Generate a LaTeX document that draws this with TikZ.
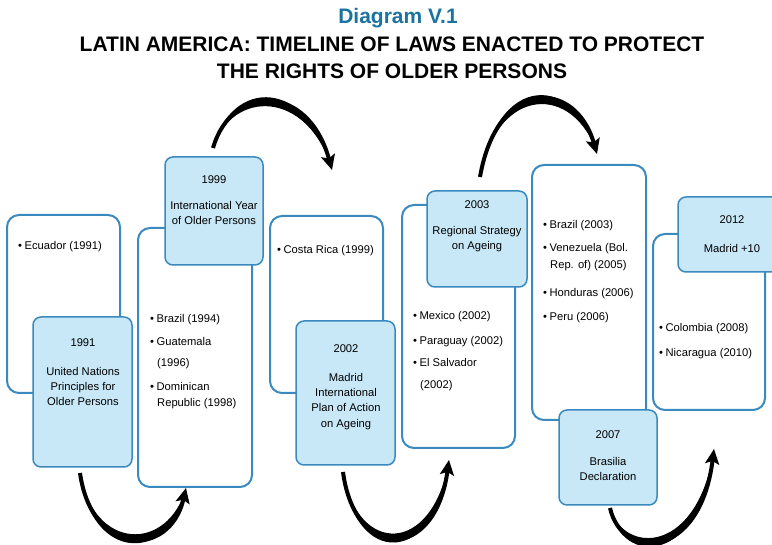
\documentclass[tikz,border=0pt]{standalone}
\usepackage{fontspec}
\setmainfont{Liberation Sans}
\usetikzlibrary{arrows.meta}
\definecolor{boxblue}{HTML}{C8E8F7}
\definecolor{edgeblue}{HTML}{3A8AC0}
\definecolor{titleblue}{HTML}{1A73A0}
\newcommand{\bul}{•\kern2.5pt}
\begin{document}
\begin{tikzpicture}[x=1pt,y=-1pt,
  whitebox/.style={draw=edgeblue,line width=2pt,fill=white,rounded corners=12pt},
  bluebox/.style={draw=edgeblue,line width=1.5pt,fill=boxblue,rounded corners=8pt},
  txt/.style={font=\fontsize{11.2}{13}\selectfont,inner sep=0pt,anchor=base west},
  ctxt/.style={font=\fontsize{11.2}{13}\selectfont,inner sep=0pt,anchor=base},
  bigarrow/.style={line width=4pt,-{Stealth[length=15pt,width=14pt,inset=3pt]}},
  lens/.style={fill=black,draw=none},
  ttl/.style={font=\bfseries\fontsize{21}{24}\selectfont,inner sep=0pt,anchor=base}]
\useasboundingbox (0,0) rectangle (772,545);
% titles
\node[ttl,text=titleblue] (t1) at (398,24) {Diagram V.1};
\node[ttl] (t2) at (392,52) {LATIN AMERICA: TIMELINE OF LAWS ENACTED TO PROTECT};
\node[ttl] (t3) at (392,79) {THE RIGHTS OF OLDER PERSONS};
% boxes
\draw[whitebox] (7,215) rectangle (120,393);
\draw[bluebox] (33,317) rectangle (132,467);
\draw[whitebox] (138,228) rectangle (252,487);
\draw[bluebox] (165,157) rectangle (263,265);
\draw[whitebox] (270,216) rectangle (383,393);
\draw[bluebox] (296,321) rectangle (395,465);
\draw[whitebox] (402,205) rectangle (515,448);
\draw[bluebox] (427,191) rectangle (527,287);
\draw[whitebox] (532,165) rectangle (646,420);
\draw[bluebox] (559,410) rectangle (657,505);
\draw[whitebox] (653,234) rectangle (765,410);
\draw[bluebox] (678,197) rectangle (790,272);
% texts box 1
\node[txt] (e1) at (18,250) {\bul Ecuador (1991)};
\node[ctxt] (a1) at (83,347) {1991};
\node[ctxt] (a2) at (83,376) {United Nations};
\node[ctxt] (a3) at (83,391) {Principles for};
\node[ctxt] (a4) at (83,406) {Older Persons};
% box 2
\node[txt] (b1) at (150,323) {\bul Brazil (1994)};
\node[txt] (b2) at (150,346) {\bul Guatemala};
\node[txt] (b3) at (157,367) {(1996)};
\node[txt] (b4) at (150,391) {\bul Dominican};
\node[txt] (b5) at (157,407) {Republic (1998)};
\node[ctxt] (c1) at (214,184) {1999};
\node[ctxt] (c2) at (214,210) {International Year};
\node[ctxt] (c3) at (214,225) {of Older Persons};
% box 3
\node[txt] (d1) at (277,254) {\bul Costa Rica (1999)};
\node[ctxt] (f1) at (346,353) {2002};
\node[ctxt] (f2) at (346,382) {Madrid};
\node[ctxt] (f3) at (346,397) {International};
\node[ctxt] (f4) at (346,412) {Plan of Action};
\node[ctxt] (f5) at (346,428) {on Ageing};
% box 4
\node[txt] (g1) at (413,320) {\bul Mexico (2002)};
\node[txt] (g2) at (413,345) {\bul Paraguay (2002)};
\node[txt] (g3) at (413,367) {\bul El Salvador};
\node[txt] (g4) at (420,389) {(2002)};
\node[ctxt] (h1) at (477,209) {2003};
\node[ctxt] (h2) at (477,235) {Regional Strategy};
\node[ctxt] (h3) at (477,250) {on Ageing};
% box 5
\node[txt] (i1) at (543,229) {\bul Brazil (2003)};
\node[txt] (i2) at (543,252) {\bul Venezuela (Bol.};
\node[txt] (i3) at (550,269) {Rep. of) (2005)};
\node[txt] (i4) at (543,297) {\bul Honduras (2006)};
\node[txt] (i5) at (543,321) {\bul Peru (2006)};
\node[ctxt] (j1) at (608,439) {2007};
\node[ctxt] (j2) at (608,466) {Brasilia};
\node[ctxt] (j3) at (608,481) {Declaration};
% box 6
\node[txt] (k1) at (659,332) {\bul Colombia (2008)};
\node[txt] (k2) at (659,357) {\bul Nicaragua (2010)};
\node[ctxt] (l1) at (732,224) {2012};
\node[ctxt] (l2) at (732,253) {Madrid +10};
% arrows
\coordinate (s1) at (80,473); \coordinate (e1a) at (186,488);
\coordinate (s2) at (213,148); \coordinate (e2a) at (332,170);
\coordinate (s3) at (343,472); \coordinate (e3a) at (449,460);
\coordinate (s4) at (480,177); \coordinate (e4a) at (597,154);
\coordinate (s5) at (610,508); \coordinate (e5a) at (714,449);
\fill[lens] (s1) .. controls (94,552) and (168,552) .. (e1a) .. controls (172,564) and (90,564) .. (s1) -- cycle;
\fill[lens] (s2) .. controls (232,89) and (308,89) .. (e2a) .. controls (309,77) and (231,77) .. (s2) -- cycle;
\fill[lens] (s3) .. controls (357,556) and (433,556) .. (e3a) .. controls (437,568) and (353,568) .. (s3) -- cycle;
\fill[lens] (s4) .. controls (497,84) and (575,84) .. (e4a) .. controls (576,72) and (496,72) .. (s4) -- cycle;
\fill[lens] (s5) .. controls (624,555) and (698,555) .. (e5a) .. controls (702,567) and (620,567) .. (s5) -- cycle;
\draw[bigarrow] (s1) .. controls (92,558) and (170,558) .. (e1a);
\draw[bigarrow] (s2) .. controls (232,83) and (308,83) .. (e2a);
\draw[bigarrow] (s3) .. controls (355,562) and (435,562) .. (e3a);
\draw[bigarrow] (s4) .. controls (497,78) and (575,78) .. (e4a);
\draw[bigarrow] (s5) .. controls (622,561) and (700,561) .. (e5a);
\end{tikzpicture}
\end{document}
